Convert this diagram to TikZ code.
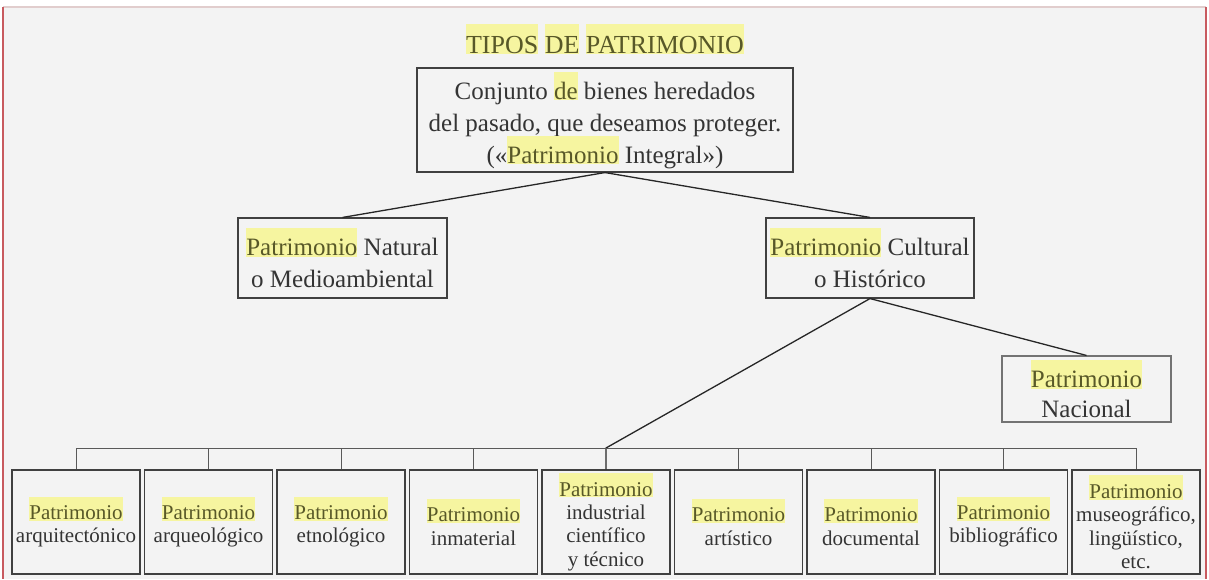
\documentclass[tikz,border=0pt]{standalone}
\usepackage{fontspec}
\setmainfont{Liberation Serif}
\definecolor{paper}{RGB}{243,243,243}
\definecolor{frame}{RGB}{200,90,95}
\definecolor{topline}{RGB}{225,205,205}
\definecolor{hlyellow}{RGB}{246,245,160}
\definecolor{hltext}{RGB}{88,88,40}
\definecolor{ink}{RGB}{52,52,52}
\newcommand{\hlw}[1]{{\setlength{\fboxsep}{0pt}\colorbox{hlyellow}{\rule[-0.05em]{0pt}{1.15em}\textcolor{hltext}{#1}}}}
\newcommand{\titlefont}{\fontsize{26}{30}\selectfont}
\newcommand{\bigfont}{\fontsize{25}{32}\selectfont\lineskiplimit=-50pt\relax}
\newcommand{\nacfont}{\fontsize{25}{30}\selectfont\lineskiplimit=-50pt\relax}
\newcommand{\smallfont}{\fontsize{21}{23.3}\selectfont\lineskiplimit=-50pt\relax}
\begin{document}
\begin{tikzpicture}[x=1pt,y=-1pt,
		box/.style={draw=black!75, line width=1.1pt, align=center, inner sep=0pt, text=ink},
		bigbox/.style={box, font=\bigfont},
		smallbox/.style={box, font=\smallfont, minimum width=128pt, minimum height=104pt},
		link/.style={draw=black!85, line width=1.3pt},
		bus/.style={draw=black!65, line width=1pt}]
			\useasboundingbox (0,0) rectangle (1209,579);
			\fill[paper] (3,7) rectangle (1206,579);
			\draw[topline, line width=1.5pt] (3,7) -- (1206,7);
			\draw[frame, line width=2pt] (3,7) -- (3,579);
			\draw[frame, line width=2pt] (1206,7) -- (1206,579);
			\node[font=\titlefont, text=hltext, anchor=base] (title) at (605,53) {\hlw{TIPOS} \hlw{DE} \hlw{PATRIMONIO}};
			\node[bigbox, minimum width=376pt, minimum height=104pt] (whole) at (605,120) {Conjunto \hlw{de} bienes heredados\\del pasado, que deseamos proteger.\\(«\hlw{Patrimonio} Integral»)};
			\node[bigbox, minimum width=209pt, minimum height=80pt] (natural) at (342.5,258) {\hlw{Patrimonio} Natural\\o Medioambiental};
			\node[bigbox, minimum width=208pt, minimum height=80pt] (cultural) at (870,258) {\hlw{Patrimonio} Cultural\\o Histórico};
			\node[box, draw=black!55, font=\nacfont, minimum width=169pt, minimum height=66pt] (nacional) at (1086.5,389) {\hlw{Patrimonio}\\Nacional};
			\node[smallbox] (arqui) at (76,522) {\hlw{Patrimonio}\\arquitectónico};
			\node[smallbox] (arqueo) at (208.5,522) {\hlw{Patrimonio}\\arqueológico};
			\node[smallbox] (etno) at (341,522) {\hlw{Patrimonio}\\etnológico};
			\node[smallbox] (inmat) at (473.5,522) {\hlw{Patrimonio}\\inmaterial};
			\node[smallbox] (indus) at (606,522) {\hlw{Patrimonio}\\industrial\\científico\\y técnico};
			\node[smallbox] (artis) at (738.5,522) {\hlw{Patrimonio}\\artístico};
			\node[smallbox] (docu) at (871,522) {\hlw{Patrimonio}\\documental};
			\node[smallbox] (biblio) at (1003.5,522) {\hlw{Patrimonio}\\bibliográfico};
			\node[smallbox] (museo) at (1136,522) {\hlw{Patrimonio}\\museográfico,\\lingüístico,\\etc.};
			\coordinate (bus) at (0,448);
			\draw[link] (whole.south) -- (natural.north);
			\draw[link] (whole.south) -- (cultural.north);
			\draw[link] (cultural.south) -- (nacional.north);
			\draw[link] (cultural.south) -- (indus.north |- bus) -- (indus.north);
			\draw[bus] (arqui.north) -- (arqui.north |- bus) -- (museo.north |- bus) -- (museo.north);
			\draw[bus] (arqueo.north) -- (arqueo.north |- bus);
			\draw[bus] (etno.north) -- (etno.north |- bus);
			\draw[bus] (inmat.north) -- (inmat.north |- bus);
			\draw[bus] (artis.north) -- (artis.north |- bus);
			\draw[bus] (docu.north) -- (docu.north |- bus);
			\draw[bus] (biblio.north) -- (biblio.north |- bus);
		\end{tikzpicture}
\end{document}
